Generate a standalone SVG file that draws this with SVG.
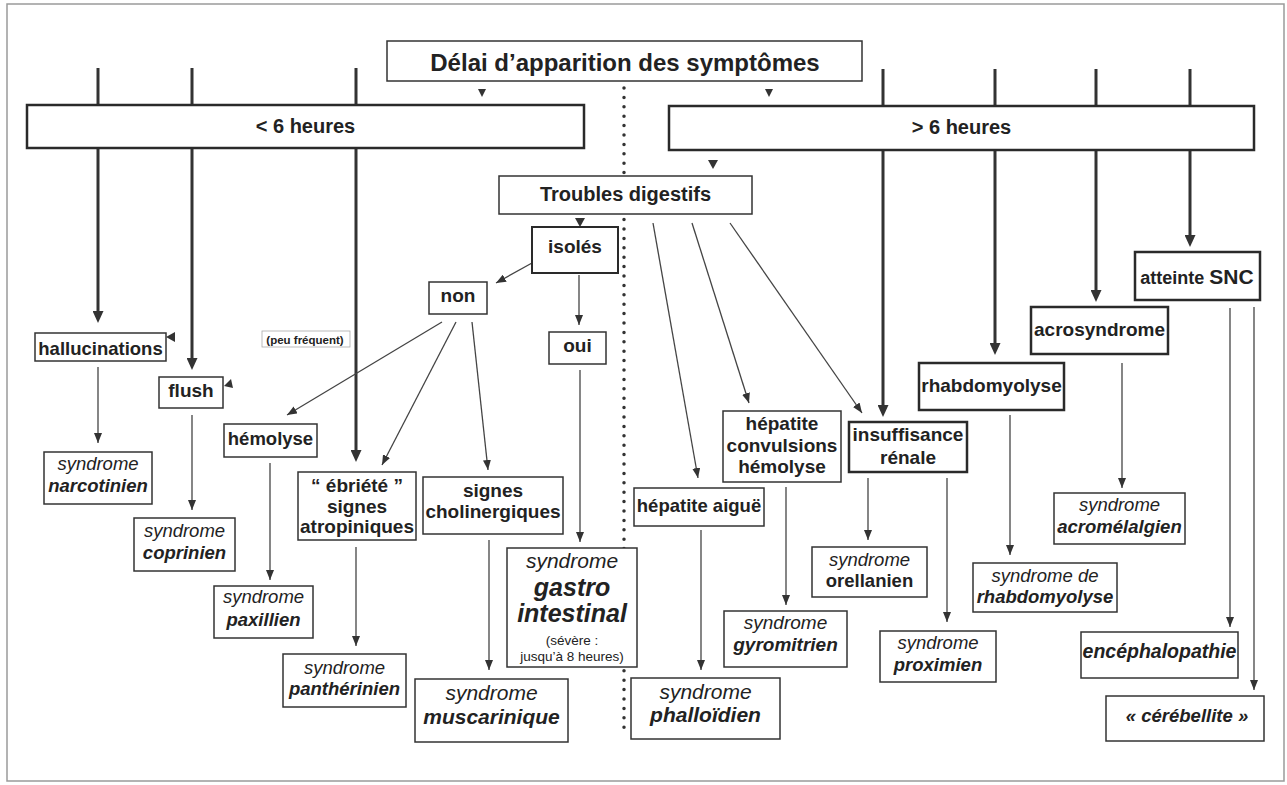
<svg xmlns="http://www.w3.org/2000/svg" width="1287" height="785" viewBox="0 0 1287 785">
<style>
text { font-family: "Liberation Sans", Arial, sans-serif; fill: #222; text-anchor: middle; }
.b { font-weight: bold; }
.i { font-style: italic; }
.bi { font-weight: bold; font-style: italic; }
.box { fill: #fff; stroke: #333; stroke-width: 1.5; }
.boxb { fill: #fff; stroke: #2a2a2a; stroke-width: 2.5; }
.thick { stroke: #333; stroke-width: 3; fill: none; marker-end: url(#ahb); }
.thin { stroke: #444; stroke-width: 1.3; fill: none; marker-end: url(#ah); }
.tri { fill: #333; }
.dots { stroke: #333; stroke-width: 3.5; stroke-linecap: round; stroke-dasharray: 0 9.4; fill: none; }
.f24 { font-size: 24px; } .f20 { font-size: 20px; } .f19 { font-size: 19px; } .f18 { font-size: 18.5px; }
.f21 { font-size: 21px; } .f25 { font-size: 25px; } .f13 { font-size: 13.5px; } .f10 { font-size: 11.5px; }
</style>
<defs>
<marker id="ah" viewBox="0 0 10 8" refX="10" refY="4" markerWidth="10" markerHeight="8" markerUnits="userSpaceOnUse" orient="auto">
<path d="M0,0 L10,4 L0,8 z" fill="#333"/>
</marker>
<marker id="ahb" viewBox="0 0 12 11" refX="4" refY="5.5" markerWidth="12" markerHeight="11" markerUnits="userSpaceOnUse" orient="auto">
<path d="M0,0 L12,5.5 L0,11 z" fill="#333"/>
</marker>
</defs>
<rect x="0" y="0" width="1287" height="785" fill="#fff"/>
<rect x="7" y="4" width="1277" height="777" fill="none" stroke="#9a9a9a" stroke-width="1.5"/>

<g id="connectors">
<line class="dots" x1="624" y1="88" x2="624" y2="730"/>
<line class="thick" x1="98" y1="68" x2="98" y2="315"/>
<line class="thick" x1="192" y1="68" x2="192" y2="362"/>
<line class="thick" x1="356" y1="68" x2="356" y2="454"/>
<line class="thick" x1="883" y1="69" x2="883" y2="409"/>
<line class="thick" x1="995" y1="69" x2="995" y2="347"/>
<line class="thick" x1="1096" y1="69" x2="1096" y2="294"/>
<line class="thick" x1="1190" y1="69" x2="1190" y2="239"/>
<line class="thin" x1="532" y1="263" x2="496" y2="283"/>
<line class="thin" x1="579" y1="275" x2="579" y2="325"/>
<line class="thin" x1="580" y1="370" x2="580" y2="542"/>
<line class="thin" x1="442" y1="322" x2="287" y2="415"/>
<line class="thin" x1="456" y1="322" x2="382" y2="465"/>
<line class="thin" x1="472" y1="322" x2="488" y2="470"/>
<line class="thin" x1="98" y1="367" x2="98" y2="443"/>
<line class="thin" x1="192" y1="415" x2="192" y2="510"/>
<line class="thin" x1="270" y1="463" x2="270" y2="580"/>
<line class="thin" x1="356" y1="547" x2="356" y2="646"/>
<line class="thin" x1="489" y1="540" x2="489" y2="670"/>
<line class="thin" x1="653" y1="223" x2="698" y2="478"/>
<line class="thin" x1="692" y1="223" x2="749" y2="403"/>
<line class="thin" x1="730" y1="223" x2="862" y2="413"/>
<line class="thin" x1="701" y1="530" x2="701" y2="670"/>
<line class="thin" x1="786" y1="487" x2="786" y2="605"/>
<line class="thin" x1="868" y1="478" x2="868" y2="540"/>
<line class="thin" x1="947" y1="478" x2="947" y2="622"/>
<line class="thin" x1="1010" y1="415" x2="1010" y2="555"/>
<line class="thin" x1="1122" y1="363" x2="1122" y2="488"/>
<line class="thin" x1="1230" y1="308" x2="1230" y2="627"/>
<line class="thin" x1="1254" y1="307" x2="1254" y2="690"/>
<polygon class="tri" points="478,89 486,89 482,97"/>
<polygon class="tri" points="765,89 773,89 769,97"/>
<polygon class="tri" points="708,160 718,160 713,169"/>
<polygon class="tri" points="575,218 585,218 580,227"/>
<polygon class="tri" points="166,337 175,332 175,342"/>
<polygon class="tri" points="224,386 231,379 233,388"/>
</g>

<g id="n-title"><rect class="box" x="387" y="41" width="475" height="40"/><text class="b f24" x="625" y="71">Délai d’apparition des symptômes</text></g>
<g id="n-lt6"><rect class="boxb" x="27" y="105" width="557" height="43"/><text class="b f20" x="305.5" y="133">&lt; 6 heures</text></g>
<g id="n-gt6"><rect class="boxb" x="669" y="106" width="585" height="44"/><text class="b f20" x="961.5" y="134">&gt; 6 heures</text></g>
<g id="n-troubles"><rect class="box" x="499" y="176" width="253" height="38"/><text class="b f20" x="625.5" y="201">Troubles digestifs</text></g>
<g id="n-isoles"><rect class="boxb" x="532" y="227" width="86" height="46" style="stroke-width:2"/><text class="b f19" x="575" y="253">isolés</text></g>
<g id="n-non"><rect class="box" x="429" y="282" width="58" height="32"/><text class="b f19" x="458" y="302">non</text></g>
<g id="n-oui"><rect class="box" x="549" y="332" width="57" height="32"/><text class="b f19" x="577.5" y="352">oui</text></g>
<g id="n-peu"><rect x="262" y="331" width="88" height="16" fill="#fff" stroke="#aaa" stroke-width="0.8"/><text class="b f10" x="305" y="343.5">(peu fréquent)</text></g>

<g id="n-halluc"><rect class="box" x="35" y="333" width="131" height="28"/><text class="b f18" x="100.5" y="355">hallucinations</text></g>
<g id="n-flush"><rect class="box" x="159" y="377" width="64" height="31"/><text class="b f19" x="191" y="397">flush</text></g>
<g id="n-narco"><rect class="box" x="44" y="452" width="108" height="52"/><text class="i f18" x="98" y="470">syndrome</text><text class="bi f18" x="98" y="492">narcotinien</text></g>
<g id="n-copri"><rect class="box" x="134" y="518" width="101" height="53"/><text class="i f18" x="184.5" y="537">syndrome</text><text class="bi f18" x="184.5" y="559">coprinien</text></g>
<g id="n-hemo"><rect class="box" x="224" y="424" width="93" height="33"/><text class="b f18" x="270.5" y="445">hémolyse</text></g>
<g id="n-paxi"><rect class="box" x="214" y="586" width="99" height="52"/><text class="i f18" x="263.5" y="603">syndrome</text><text class="bi f18" x="263.5" y="626">paxillien</text></g>
<g id="n-ebriete"><rect class="box" x="298" y="472" width="118" height="68"/><text class="b f19" x="357" y="492">“ ébriété ”</text><text class="b f19" x="357" y="513">signes</text><text class="b f19" x="357" y="533">atropiniques</text></g>
<g id="n-panth"><rect class="box" x="283" y="654" width="123" height="53"/><text class="i f18" x="344.5" y="674">syndrome</text><text class="bi f18" x="344.5" y="695">panthérinien</text></g>
<g id="n-cholin"><rect class="box" x="423" y="477" width="140" height="57"/><text class="b f19" x="493" y="497">signes</text><text class="b f19" x="493" y="518">cholinergiques</text></g>
<g id="n-musca"><rect class="box" x="415" y="679" width="153" height="63"/><text class="i f21" x="491.5" y="700">syndrome</text><text class="bi f21" x="491.5" y="724">muscarinique</text></g>
<g id="n-gastro"><rect class="box" x="507" y="548" width="130" height="119"/><text class="i f21" x="572" y="568">syndrome</text><text class="bi f25" x="572" y="596">gastro</text><text class="bi f25" x="572" y="622">intestinal</text><text class="f13" x="572" y="645">(sévère :</text><text class="f13" x="572" y="661">jusqu’à 8 heures)</text></g>

<g id="n-hepa"><rect class="box" x="634" y="488" width="130" height="38"/><text class="b f18" x="699" y="512">hépatite aiguë</text></g>
<g id="n-phallo"><rect class="box" x="631" y="678" width="149" height="61"/><text class="i f21" x="705.5" y="699">syndrome</text><text class="bi f21" x="705.5" y="722">phalloïdien</text></g>
<g id="n-hepconv"><rect class="box" x="723" y="411" width="118" height="71"/><text class="b f19" x="782" y="430">hépatite</text><text class="b f19" x="782" y="452">convulsions</text><text class="b f19" x="782" y="473">hémolyse</text></g>
<g id="n-gyro"><rect class="box" x="724" y="611" width="123" height="56"/><text class="i f19" x="785.5" y="629">syndrome</text><text class="bi f19" x="785.5" y="651">gyromitrien</text></g>
<g id="n-insuf"><rect class="boxb" x="849" y="422" width="118" height="50"/><text class="b f19" x="908" y="441">insuffisance</text><text class="b f19" x="908" y="464">rénale</text></g>
<g id="n-orel"><rect class="box" x="812" y="547" width="115" height="50"/><text class="i f18" x="869.5" y="566">syndrome</text><text class="b f18" x="869.5" y="587">orellanien</text></g>
<g id="n-proxi"><rect class="box" x="880" y="631" width="116" height="51"/><text class="i f18" x="938" y="649">syndrome</text><text class="bi f18" x="938" y="671">proximien</text></g>
<g id="n-rhabdo"><rect class="boxb" x="919" y="363" width="145" height="47"/><text class="b f19" x="991.5" y="392">rhabdomyolyse</text></g>
<g id="n-srhabdo"><rect class="box" x="973" y="563" width="144" height="49"/><text class="i f18" x="1045" y="582">syndrome de</text><text class="bi f18" x="1045" y="603">rhabdomyolyse</text></g>
<g id="n-acro"><rect class="boxb" x="1031" y="307" width="137" height="47"/><text class="b f19" x="1099.5" y="336">acrosyndrome</text></g>
<g id="n-acromel"><rect class="box" x="1054" y="493" width="131" height="51"/><text class="i f18" x="1119.5" y="511">syndrome</text><text class="bi f18" x="1119.5" y="533">acromélalgien</text></g>
<g id="n-snc"><rect class="boxb" x="1135" y="252" width="125" height="48"/><text class="b" x="1197" y="284"><tspan style="font-size:18px">atteinte </tspan><tspan style="font-size:21px">SNC</tspan></text></g>
<g id="n-encep"><rect class="box" x="1081" y="632" width="157" height="46"/><text class="bi" style="font-size:19.5px" x="1159.5" y="658">encéphalopathie</text></g>
<g id="n-cereb"><rect class="box" x="1106" y="696" width="158" height="45"/><text class="bi f18" x="1187" y="722">« cérébellite »</text></g>
</svg>
